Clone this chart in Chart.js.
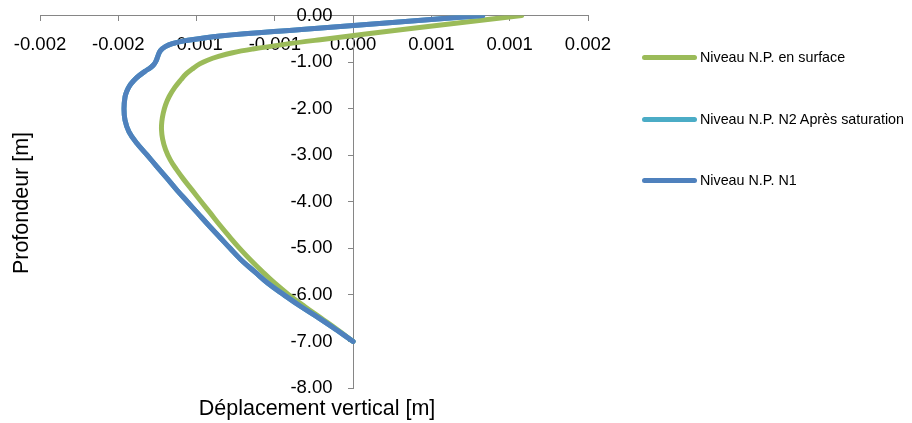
<!DOCTYPE html>
<html><head><meta charset="utf-8">
<script src="https://cdn.jsdelivr.net/npm/chart.js@4/dist/chart.umd.min.js"></script>
<style>
html,body{margin:0;padding:0;background:#fff;}
#wrap{position:relative;width:912px;height:423px;overflow:hidden;font-family:"Liberation Sans",Arial,sans-serif;color:#000;}
#c{position:absolute;left:0;top:0;}
.lg{position:absolute;left:642px;height:0;width:270px;}
.lg .sw{position:absolute;left:0;top:-2.5px;width:55px;height:5px;border-radius:2.5px;}
.lg .tx{position:absolute;left:58px;top:-9px;font-size:14.3px;line-height:18px;white-space:nowrap;}
#xt{position:absolute;left:0;top:395.5px;width:634px;text-align:center;font-size:21.5px;line-height:24px;white-space:nowrap;}
#yt{position:absolute;left:-129px;top:190px;width:300px;height:26px;text-align:center;font-size:21.5px;line-height:26px;white-space:nowrap;transform:rotate(-90deg);}
</style></head>
<body>
<div id="wrap">
<canvas id="c" width="912" height="423"></canvas>
<div id="xt"></div>
<div id="yt"></div>
<div id="legend"></div>
</div>
<script>
// ---- data ----
const seriesNames = ['Niveau N.P. en surface', 'Niveau N.P. N2 Après saturation', 'Niveau N.P. N1'];
const seriesColors = ['#9BBB59', '#4BACC6', '#4F81BD'];

const greenDepth = [0, -0.28, -0.52, -0.62, -0.72, -0.80, -0.88, -0.96, -1.04, -1.13, -1.25, -1.38, -1.55, -1.74, -1.92, -2.10, -2.28, -2.45, -2.65, -2.88, -3.10, -3.30, -3.53, -3.75, -4.00, -4.24, -4.50, -4.75, -5.00, -5.25, -5.50, -5.75, -6.00, -6.25, -6.50, -6.75, -7.00];
const greenDisp  = [0.001077, 0.00037, -0.00021, -0.00044, -0.00064, -0.00077, -0.00086, -0.00093, -0.00098, -0.00102, -0.001065, -0.0011, -0.00114, -0.001175, -0.001198, -0.001213, -0.001222, -0.001224, -0.001217, -0.001198, -0.001168, -0.00113, -0.00108, -0.001028, -0.00097, -0.000913, -0.000852, -0.00079, -0.000725, -0.000655, -0.00058, -0.0005, -0.00041, -0.00031, -0.000205, -0.0001, 0];

const cyanDepth = [0, -0.15, -0.30, -0.44, -0.54, -0.60, -0.67, -0.76, -0.88, -0.97, -1.05, -1.12, -1.20, -1.30, -1.40, -1.50, -1.62, -1.75, -2.00, -2.25, -2.50, -2.75, -3.00, -3.25, -3.50, -3.75, -4.00, -4.25, -4.50, -4.75, -5.00, -5.25, -5.50, -5.75, -6.00, -6.25, -6.50, -6.75, -7.00];
const cyanDisp  = [0.000828, 0.00025, -0.00033, -0.00085, -0.00107, -0.00115, -0.0012, -0.001232, -0.001248, -0.001258, -0.001272, -0.001295, -0.00133, -0.00137, -0.001402, -0.001426, -0.001445, -0.001457, -0.0014635, -0.001457, -0.0014316, -0.00138, -0.0013153, -0.0012521, -0.0011885, -0.0011256, -0.0010586, -0.0009915, -0.0009245, -0.0008548, -0.0007859, -0.000715, -0.00063, -0.0005444, -0.0004416, -0.0003343, -0.0002181, -0.0001076, 0];

const blueDepth = [0, -0.15, -0.30, -0.44, -0.54, -0.60, -0.67, -0.76, -0.88, -0.97, -1.05, -1.12, -1.20, -1.30, -1.40, -1.50, -1.62, -1.75, -2.00, -2.25, -2.50, -2.75, -3.00, -3.25, -3.50, -3.75, -4.00, -4.25, -4.50, -4.75, -5.00, -5.25, -5.50, -5.75, -6.00, -6.25, -6.50, -6.75, -7.00];
const blueDisp  = [0.000828, 0.00025, -0.00033, -0.00085, -0.00107, -0.00115, -0.0012, -0.001232, -0.001248, -0.001258, -0.001272, -0.001295, -0.00133, -0.00137, -0.001402, -0.001426, -0.001445, -0.001457, -0.0014635, -0.001457, -0.0014316, -0.00138, -0.0013153, -0.0012521, -0.0011885, -0.0011256, -0.0010586, -0.0009915, -0.0009245, -0.0008548, -0.0007859, -0.000715, -0.00063, -0.0005444, -0.0004416, -0.0003343, -0.0002181, -0.0001076, 0];

const xTickValues = [-0.002, -0.0015, -0.001, -0.0005, 0, 0.0005, 0.001, 0.0015];
const xTickLabels = ['-0.002', '-0.002', '-0.001', '-0.001', '0.000', '0.001', '0.001', '0.002'];
const yTickValues = [-8, -7, -6, -5, -4, -3, -2, -1, 0];
const yTickLabels = ['-8.00', '-7.00', '-6.00', '-5.00', '-4.00', '-3.00', '-2.00', '-1.00', '0.00'];

const xTitle = 'Déplacement vertical [m]';
const yTitle = 'Profondeur [m]';

// ---- build ----
const FONT = '"Liberation Sans", Arial, sans-serif';
const pts = (xs, ys) => xs.map((x, i) => ({x: x, y: ys[i]}));
const allSeries = [
  pts(greenDisp, greenDepth),
  pts(cyanDisp, cyanDepth),
  pts(blueDisp, blueDepth)
];
const drawOrder = [3, 2, 1];

document.getElementById('xt').textContent = xTitle;
document.getElementById('yt').textContent = yTitle;

const legendY = [57.3, 119.3, 180.3];
const lg = document.getElementById('legend');
seriesNames.forEach((n, i) => {
  const d = document.createElement('div');
  d.className = 'lg';
  d.style.top = legendY[i] + 'px';
  d.innerHTML = '<div class="sw" style="background:' + seriesColors[i] + '"></div><div class="tx"></div>';
  d.querySelector('.tx').textContent = n;
  lg.appendChild(d);
});

const axisColor = '#868686';
new Chart(document.getElementById('c'), {
  type: 'scatter',
  data: {
    datasets: allSeries.map((data, i) => ({
      label: seriesNames[i],
      data: data,
      showLine: true,
      borderColor: seriesColors[i],
      backgroundColor: seriesColors[i],
      borderWidth: 5,
      borderCapStyle: 'round',
      borderJoinStyle: 'round',
      pointRadius: 0,
      pointHoverRadius: 0,
      tension: 0.4,
      clip: 0,
      order: drawOrder[i]
    }))
  },
  options: {
    responsive: false,
    animation: false,
    events: [],
    layout: {padding: {left: 40, right: 324, top: 15.5, bottom: 35}},
    plugins: {legend: {display: false}, tooltip: {enabled: false}, title: {display: false}},
    scales: {
      x: {
        type: 'linear',
        position: {y: 0},
        min: xTickValues[0],
        max: xTickValues[xTickValues.length - 1],
        afterBuildTicks: s => { s.ticks = xTickValues.map(v => ({value: v})); },
        ticks: {
          autoSkip: false, maxRotation: 0, minRotation: 0, padding: 13,
          color: '#000', font: {family: FONT, size: 18.5},
          callback: (v, i) => xTickLabels[i]
        },
        grid: {drawOnChartArea: false, drawTicks: true, tickLength: 5, color: axisColor, lineWidth: 1},
        border: {display: true, color: axisColor, width: 1}
      },
      y: {
        type: 'linear',
        position: {x: 0},
        min: yTickValues[0],
        max: yTickValues[yTickValues.length - 1],
        afterBuildTicks: s => { s.ticks = yTickValues.map(v => ({value: v})); },
        ticks: {
          autoSkip: false, padding: 0,
          color: '#000', font: {family: FONT, size: 18.5},
          callback: (v, i) => yTickLabels[i] + '\u2007\u2007'
        },
        grid: {drawOnChartArea: false, drawTicks: true, tickLength: 5, color: axisColor, lineWidth: 1},
        border: {display: true, color: axisColor, width: 1}
      }
    }
  }
});
</script>
</body></html>
